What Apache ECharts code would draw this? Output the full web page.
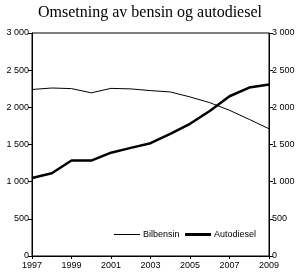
<!DOCTYPE html>
<html><head><meta charset="utf-8">
<script src="https://cdn.jsdelivr.net/npm/echarts@6/dist/echarts.min.js"></script>
<style>html,body{margin:0;padding:0;background:#fff}#c{width:300px;height:274px}</style>
</head><body><div id="c"></div>
<script>
const years = ['1997','1998','1999','2000','2001','2002','2003','2004','2005','2006','2007','2008','2009'];
const bilbensin = [2240, 2260, 2252, 2195, 2255, 2248, 2225, 2207, 2140, 2063, 1960, 1838, 1712];
const autodiesel = [1050, 1113, 1284, 1284, 1390, 1455, 1518, 1644, 1779, 1950, 2149, 2266, 2307];
const seriesNames = ['Bilbensin', 'Autodiesel'];
const titleText = 'Omsetning av bensin og autodiesel';

const fmt = v => v >= 1000 ? Math.floor(v / 1000) + ' ' + String(v % 1000).padStart(3, '0') : String(v);
const lab = {fontFamily: 'Liberation Sans, Arial, sans-serif', fontSize: 9, color: '#000'};
const yBase = {
  type: 'value', min: 0, max: 3000, interval: 500,
  axisLine: {show: true, lineStyle: {color: '#000', width: 1}},
  axisTick: {show: true, length: 4, lineStyle: {color: '#000'}},
  axisLabel: Object.assign({formatter: fmt, margin: 3}, lab),
  splitLine: {show: false}
};
const legBase = {
  icon: 'rect', itemWidth: 26, itemGap: 4,
  textStyle: Object.assign({padding: [0, 0, 0, -2]}, lab)
};
const chart = echarts.init(document.getElementById('c'), null, {renderer: 'canvas'});
chart.setOption({
  animation: false,
  backgroundColor: '#fff',
  title: {
    text: titleText, left: 'center', top: 0,
    textStyle: {fontFamily: 'Liberation Serif, Times New Roman, serif', fontSize: 16, fontWeight: 'normal', color: '#000'}
  },
  grid: {left: 32, right: 31, top: 33, bottom: 18, show: true, borderColor: '#000', borderWidth: 1, backgroundColor: 'transparent'},
  legend: [
    Object.assign({left: 109, top: 225, itemHeight: 1, data: [seriesNames[0]]}, legBase),
    Object.assign({left: 180, top: 225, itemHeight: 3, data: [seriesNames[1]]}, legBase)
  ],
  xAxis: {
    type: 'category', data: years, boundaryGap: false,
    axisLine: {show: true, lineStyle: {color: '#000'}},
    axisTick: {show: true, interval: 1, length: 3, lineStyle: {color: '#000'}},
    axisLabel: Object.assign({interval: 1, margin: 5}, lab),
    splitLine: {show: false}
  },
  yAxis: [Object.assign({position: 'left'}, yBase), Object.assign({position: 'right'}, yBase)],
  series: [
    {name: seriesNames[0], type: 'line', data: bilbensin, symbol: 'none', lineStyle: {color: '#000', width: 1}, itemStyle: {color: '#000'}},
    {name: seriesNames[1], type: 'line', data: autodiesel, symbol: 'none', lineStyle: {color: '#000', width: 2.5}, itemStyle: {color: '#000'}}
  ]
});
</script></body></html>
